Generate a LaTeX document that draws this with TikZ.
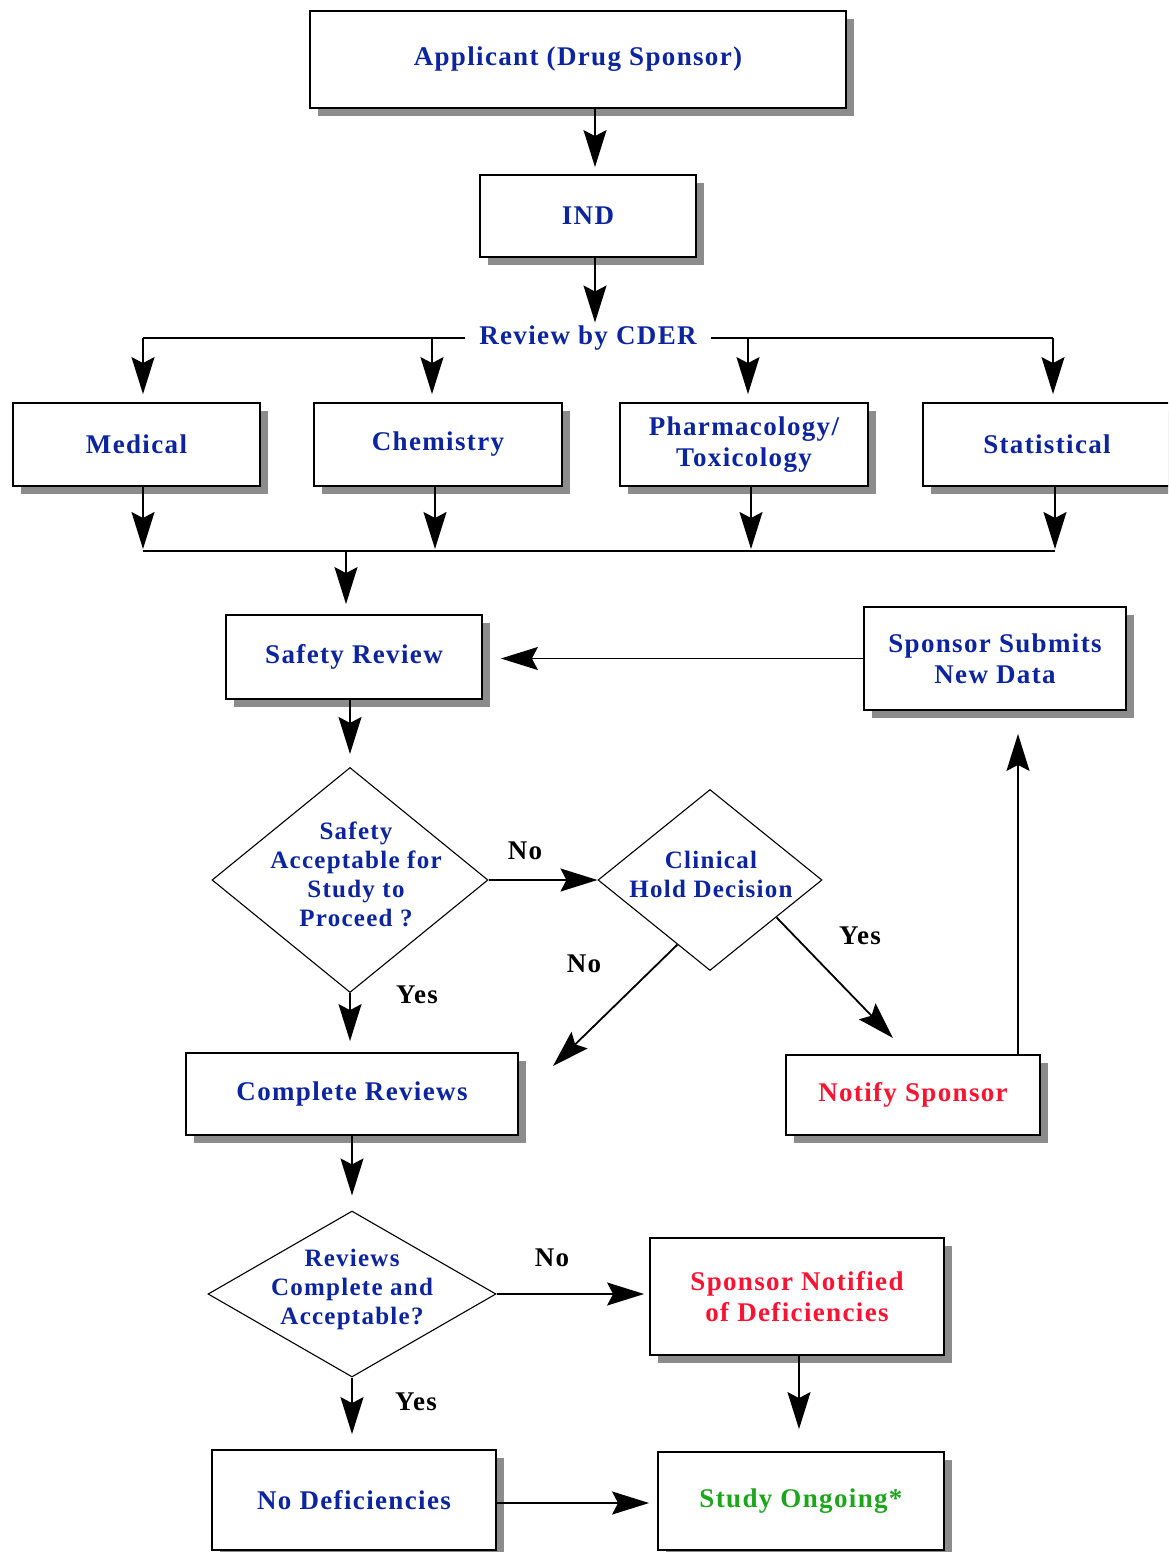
\documentclass[tikz,border=0pt]{standalone}
\usepackage{fontspec}
\setmainfont{Liberation Serif}[LetterSpace=5]
\usetikzlibrary{arrows.meta,shapes.geometric,shadows,calc}
\definecolor{tblue}{RGB}{12,36,158}
\definecolor{tred}{RGB}{250,20,50}
\definecolor{tgreen}{RGB}{30,165,30}
\definecolor{shade}{RGB}{140,140,140}
\begin{document}
\begin{tikzpicture}[x=1pt,y=-1pt,
  box/.style={draw, line width=1.8pt, fill=white,
    drop shadow={shadow xshift=8pt, shadow yshift=-8pt, fill=shade, opacity=1},
    align=center, inner sep=0pt, font=\fontsize{27}{31}\selectfont\bfseries, text=tblue},
  dia/.style={draw, diamond, line width=1.1pt, inner sep=0pt},
  diatext/.style={align=center, font=\fontsize{25}{29}\selectfont\bfseries, text=tblue, inner sep=0pt},
  lbl/.style={font=\fontsize{27}{30}\selectfont\bfseries, text=black, inner sep=0pt},
  conn/.style={line width=1.8pt},
  arr/.style={conn, -{Stealth[length=37pt,width=23pt,inset=6pt]}},
]
\useasboundingbox (0,0) rectangle (1168,1552);
\clip (0,0) rectangle (1168,1552);
\fill[white] (0,0) rectangle (1168,1552);

% boxes
\node[box, minimum width=536pt, minimum height=97pt] (app) at (578,59.5) {Applicant (Drug Sponsor)};
\node[box, minimum width=216pt, minimum height=82pt] (ind) at (588,216) {IND};
\node[text=tblue, font=\fontsize{27}{31}\selectfont\bfseries, inner xsep=14pt, inner ysep=0pt] (cder) at (588,338) {Review by CDER};
\node[box, minimum width=247pt, minimum height=83pt] (med) at (136.5,444.5) {Medical};
\node[box, minimum width=248pt, minimum height=83pt] (chem) at (438,444.5) {Chemistry};
\node[box, minimum width=248pt, minimum height=83pt] (pharm) at (744,444.5) {Pharmacology/\\Toxicology};
\node[box, minimum width=248pt, minimum height=83pt] (stat) at (1047,444.5) {Statistical};
\node[box, minimum width=256pt, minimum height=84pt] (sr) at (354,657) {Safety Review};
\node[box, minimum width=262pt, minimum height=103pt] (ssnd) at (995,658.5) {Sponsor Submits\\New Data};
\node[box, minimum width=332pt, minimum height=82pt] (cr) at (352,1094) {Complete Reviews};
\node[box, minimum width=254pt, minimum height=80pt, text=tred] (ns) at (913,1095) {Notify Sponsor};
\node[box, minimum width=294pt, minimum height=117pt, text=tred] (sn) at (797,1296.5) {Sponsor Notified\\of Deficiencies};
\node[box, minimum width=284pt, minimum height=100pt] (nd) at (354,1500) {No Deficiencies};
\node[box, minimum width=286pt, minimum height=98pt, text=tgreen] (so) at (801,1501) {Study Ongoing*};

% diamonds
\node[dia, minimum width=276pt, minimum height=225pt] (d1) at (350,880) {};
\node[diatext] (d1t) at (356,874) {Safety\\Acceptable for\\Study to\\Proceed ?};
\node[dia, minimum width=224pt, minimum height=181pt] (d2) at (710,880) {};
\node[diatext] (d2t) at (711,874) {Clinical\\Hold Decision};
\node[dia, minimum width=288pt, minimum height=166pt] (d3) at (352,1294) {};
\node[diatext] (d3t) at (352,1289) {Reviews\\Complete and\\Acceptable?};

% labels
\node[lbl] (l1) at (525,851) {No};
\node[lbl] (l2) at (417,995) {Yes};
\node[lbl] (l3) at (584,964) {No};
\node[lbl] (l4) at (860,936) {Yes};
\node[lbl] (l5) at (552,1258) {No};
\node[lbl] (l6) at (416,1402) {Yes};

% helper coordinates
\coordinate (cA) at (595,0);
\coordinate (jM) at (143,338);
\coordinate (jC) at (432,338);
\coordinate (jP) at (748,338);
\coordinate (jS) at (1053,338);
\coordinate (bM) at (143,551);
\coordinate (bC) at (435,551);
\coordinate (bP) at (751,551);
\coordinate (bS) at (1055,551);
\coordinate (bSR) at (346,551);
\coordinate (cN) at (1018,0);
\coordinate (cSN) at (799,0);
\coordinate (cY) at (0,1503);
\coordinate (noend) at (553,1066);
\coordinate (yesend) at (893,1038);

% connectors
\draw[arr, shorten >=7pt] (app.south -| cA) -- (ind.north -| cA);
\draw[arr, shorten >=3pt] (ind.south -| cA) -- (cder.north -| cA);
\draw[conn] (cder.west) -- (jM);
\draw[conn] (cder.east) -- (jS);
\draw[arr, shorten >=8pt] (jM) -- (med.north -| jM);
\draw[arr, shorten >=8pt] (jC) -- (chem.north -| jC);
\draw[arr, shorten >=8pt] (jP) -- (pharm.north -| jP);
\draw[arr, shorten >=8pt] (jS) -- (stat.north -| jS);
\draw[arr, shorten >=2pt] (med.south -| bM) -- (bM);
\draw[arr, shorten >=2pt] (chem.south -| bC) -- (bC);
\draw[arr, shorten >=2pt] (pharm.south -| bP) -- (bP);
\draw[arr, shorten >=2pt] (stat.south -| bS) -- (bS);
\draw[conn] (bM) -- (bS);
\draw[arr, shorten >=10pt] (bSR) -- (sr.north -| bSR);
\draw[arr, shorten >=18pt] (ssnd.west) -- (sr.east |- ssnd.west);
\draw[arr, shorten >=13pt] (sr.south -| d1.north) -- (d1.north);
\draw[arr] (d1.east) -- (d2.west);
\draw[arr, shorten >=11pt] (d1.south) -- (cr.north -| d1.south);
\draw[arr] ($(d2.west)!0.71!(d2.south)$) -- (noend);
\draw[arr] ($(d2.east)!0.41!(d2.south)$) -- (yesend);
\draw[arr, shorten >=23pt] (ns.north -| cN) -- (ssnd.south -| cN);
\draw[arr, shorten >=15pt] (cr.south -| d3.north) -- (d3.north);
\draw[arr, shorten >=5pt] (d3.east) -- (sn.west |- d3.east);
\draw[arr, shorten >=22pt] (sn.south -| cSN) -- (so.north -| cSN);
\draw[arr, shorten >=15pt] (d3.south) -- (nd.north -| d3.south);
\draw[arr, shorten >=8pt] (nd.east |- cY) -- (so.west |- cY);
\end{tikzpicture}
\end{document}
